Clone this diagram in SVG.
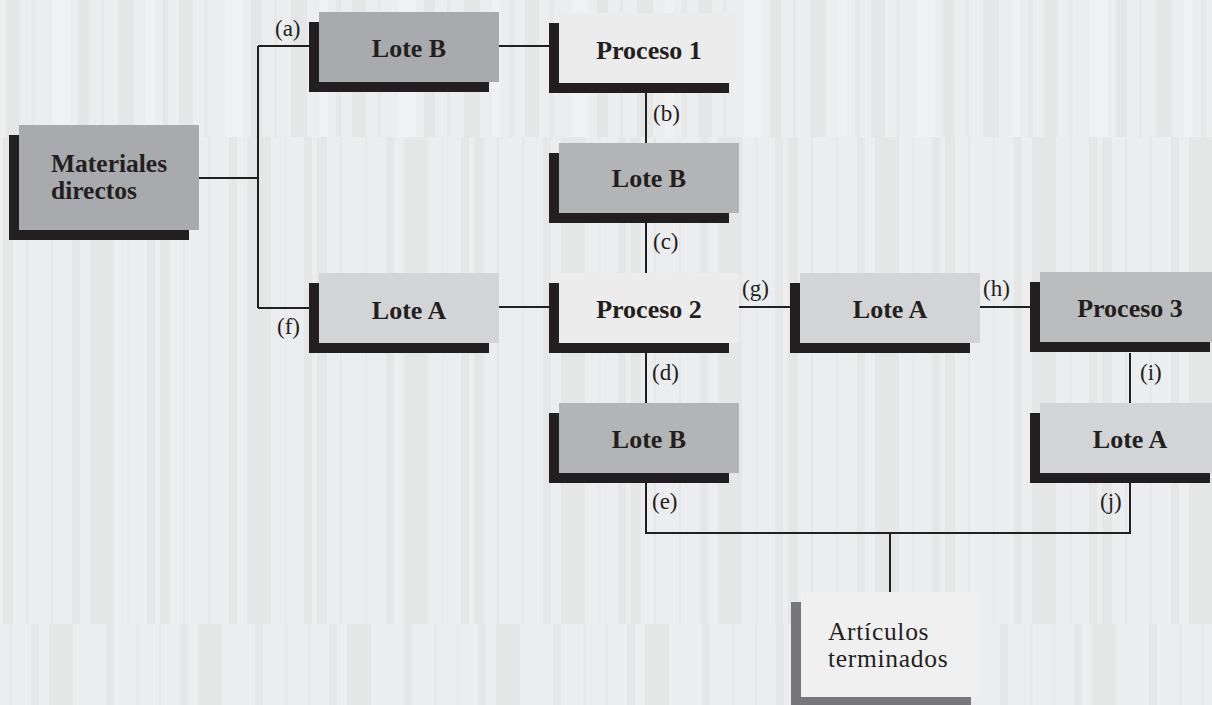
<svg xmlns="http://www.w3.org/2000/svg" width="1212" height="705" viewBox="0 0 1212 705">
<style>
.sh{fill:#231f20}
.sh2{fill:#77777b}
.t{font-family:"Liberation Serif","Times New Roman",serif;font-weight:bold;font-size:26px;fill:#231f20;text-anchor:middle}
.tl{font-family:"Liberation Serif","Times New Roman",serif;font-weight:bold;font-size:25.5px;fill:#231f20}
.tr{font-family:"Liberation Serif","Times New Roman",serif;font-size:25.5px;letter-spacing:0.7px;fill:#231f20}
.lb{font-family:"Liberation Serif","Times New Roman",serif;font-size:23px;fill:#231f20}
.c{fill:none;stroke:#231f20;stroke-width:2}
</style>
<defs>
<pattern id="p1" x="0" y="0" width="173" height="10" patternUnits="userSpaceOnUse">
<rect width="173" height="10" fill="#ebedee"/>
<rect x="6" width="14" height="10" fill="#e5e7e6"/>
<rect x="31" width="4" height="10" fill="#e7e9e8"/>
<rect x="52" width="18" height="10" fill="#f0f1f2"/>
<rect x="78" width="11" height="10" fill="#e4e6e5"/>
<rect x="101" width="3" height="10" fill="#e6e8e7"/>
<rect x="118" width="16" height="10" fill="#e5e7e6"/>
<rect x="146" width="9" height="10" fill="#f0f1f2"/>
<rect x="163" width="5" height="10" fill="#e6e8e7"/>
</pattern>
<pattern id="p2" x="3" y="0" width="157" height="10" patternUnits="userSpaceOnUse">
<rect width="157" height="10" fill="#ecedef"/>
<rect x="0" width="10" height="10" fill="#e5e7e6"/>
<rect x="23" width="2" height="10" fill="#e5e7e6"/>
<rect x="48" width="2" height="10" fill="#e6e8e7"/>
<rect x="69" width="8" height="10" fill="#e5e7e6"/>
<rect x="87" width="24" height="10" fill="#e5e7e6"/>
<rect x="124" width="3" height="10" fill="#e9ebea"/>
<rect x="144" width="8" height="10" fill="#e5e7e6"/>
</pattern>
<pattern id="p3" x="0" y="0" width="149" height="10" patternUnits="userSpaceOnUse">
<rect width="149" height="10" fill="#ecedef"/>
<rect x="10" width="2" height="10" fill="#e6e8e7"/>
<rect x="31" width="8" height="10" fill="#e5e7e6"/>
<rect x="49" width="24" height="10" fill="#e5e7e6"/>
<rect x="106" width="8" height="10" fill="#e5e7e6"/>
<rect x="136" width="3" height="10" fill="#e8eae9"/>
</pattern>
</defs>
<rect x="0" y="0" width="1212" height="137" fill="url(#p1)"/>
<rect x="0" y="137" width="1212" height="487" fill="url(#p2)"/>
<rect x="0" y="624" width="1212" height="81" fill="url(#p3)"/>

<g id="connectors">
<path class="c" d="M199 178H258M258 46V308M258 46H309M258 308H309"/>
<path class="c" d="M498 46H549"/>
<path class="c" d="M646 93V143"/>
<path class="c" d="M646 223V273"/>
<path class="c" d="M498 307H549"/>
<path class="c" d="M739 307H790"/>
<path class="c" d="M980 307H1030"/>
<path class="c" d="M1130 353V403"/>
<path class="c" d="M646 353V403"/>
<path class="c" d="M646 483V533H1130V483"/>
<path class="c" d="M890 533V592"/>
<text class="lb" x="275" y="36">(a)</text>
<text class="lb" x="653" y="121">(b)</text>
<text class="lb" x="653" y="249">(c)</text>
<text class="lb" x="652" y="380">(d)</text>
<text class="lb" x="652" y="509">(e)</text>
<text class="lb" x="277" y="334">(f)</text>
<text class="lb" x="742" y="296">(g)</text>
<text class="lb" x="983" y="296">(h)</text>
<text class="lb" x="1140" y="380">(i)</text>
<text class="lb" x="1100" y="509">(j)</text>
</g>

<g id="materiales">
<rect class="sh" x="9" y="135" width="180" height="105"/>
<rect x="19" y="125" width="180" height="105" fill="#a9aaad"/>
<text class="tl" x="51" y="172">Materiales</text>
<text class="tl" x="51" y="199">directos</text>
</g>
<g id="loteB1">
<rect class="sh" x="309" y="22" width="180" height="70"/>
<rect x="319" y="12" width="180" height="70" fill="#a9aaad"/>
<text class="t" x="409" y="57">Lote B</text>
</g>
<g id="proceso1">
<rect class="sh" x="549" y="23" width="180" height="70"/>
<rect x="559" y="13" width="180" height="70" fill="#ececec"/>
<text class="t" x="649" y="59">Proceso 1</text>
</g>
<g id="loteB2">
<rect class="sh" x="549" y="153" width="180" height="70"/>
<rect x="559" y="143" width="180" height="70" fill="#b3b4b6"/>
<text class="t" x="649" y="187">Lote B</text>
</g>
<g id="loteA1">
<rect class="sh" x="309" y="283" width="180" height="70"/>
<rect x="319" y="273" width="180" height="70" fill="#d3d4d6"/>
<text class="t" x="409" y="319">Lote A</text>
</g>
<g id="proceso2">
<rect class="sh" x="549" y="283" width="180" height="70"/>
<rect x="559" y="273" width="180" height="70" fill="#ececed"/>
<text class="t" x="649" y="318">Proceso 2</text>
</g>
<g id="loteA2">
<rect class="sh" x="790" y="283" width="180" height="70"/>
<rect x="800" y="273" width="180" height="70" fill="#d3d4d6"/>
<text class="t" x="890" y="318">Lote A</text>
</g>
<g id="proceso3">
<rect class="sh" x="1030" y="282" width="180" height="70"/>
<rect x="1040" y="272" width="180" height="70" fill="#bbbcbe"/>
<text class="t" x="1130" y="317">Proceso 3</text>
</g>
<g id="loteB3">
<rect class="sh" x="549" y="413" width="180" height="70"/>
<rect x="559" y="403" width="180" height="70" fill="#b3b4b6"/>
<text class="t" x="649" y="448">Lote B</text>
</g>
<g id="loteA3">
<rect class="sh" x="1030" y="413" width="180" height="70"/>
<rect x="1040" y="403" width="180" height="70" fill="#d3d4d6"/>
<text class="t" x="1130" y="448">Lote A</text>
</g>
<g id="articulos">
<rect class="sh2" x="791" y="602" width="180" height="110"/>
<rect x="801" y="592" width="180" height="105" fill="#f0f0f0"/>
<text class="tr" x="828" y="640">Artículos</text>
<text class="tr" x="828" y="667">terminados</text>
</g>
</svg>
